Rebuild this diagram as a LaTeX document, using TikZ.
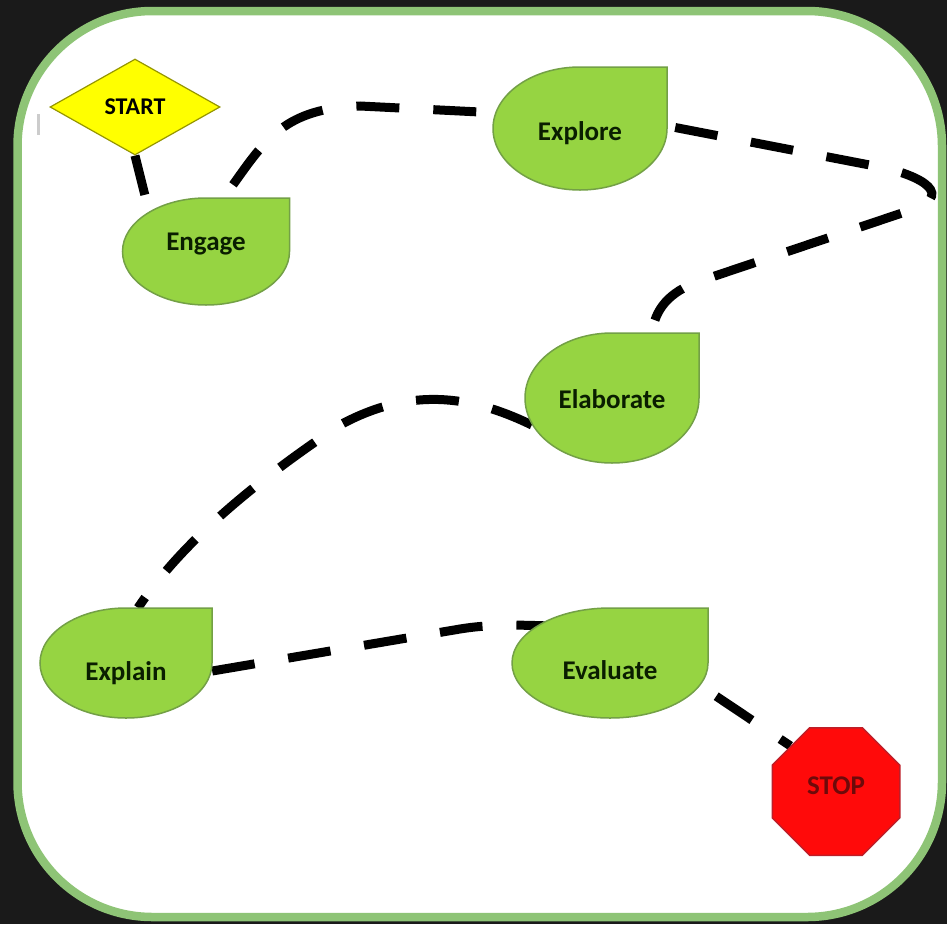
\documentclass[tikz,border=0pt]{standalone}
\usepackage{fontspec}
\setmainfont{Carlito}
\usetikzlibrary{shapes.geometric}
\definecolor{bgdark}{RGB}{26,26,26}
\definecolor{framegreen}{RGB}{142,196,118}
\definecolor{leafgreen}{RGB}{150,212,66}
\definecolor{leafborder}{RGB}{115,160,70}
\definecolor{leafink}{RGB}{10,30,0}
\definecolor{startfill}{RGB}{255,255,0}
\definecolor{startborder}{RGB}{150,150,0}
\definecolor{stopfill}{RGB}{255,10,10}
\definecolor{stopborder}{RGB}{190,30,40}
\definecolor{stopink}{RGB}{110,10,10}
\pgfdeclarelayer{back}
\pgfdeclarelayer{lines}
\pgfsetlayers{back,lines,main}
\tikzset{
  leafshape/.style={fill=leafgreen, draw=leafborder, line width=1.5pt},
  leaftext/.style={inner sep=0pt, font=\fontsize{27}{30}\selectfont\bfseries, text=leafink},
  trail/.style={draw=black, line width=9pt, dash pattern=on 43pt off 34pt},
}
\newcommand\drawleaf[4]{%
  \pgfmathsetmacro\lfL{#1-#3}\pgfmathsetmacro\lfR{#1+#3}%
  \pgfmathsetmacro\lfT{#2-#4}\pgfmathsetmacro\lfB{#2+#4}%
  \pgfmathsetmacro\lfCl{#1-0.5523*#3}\pgfmathsetmacro\lfCr{#1+0.5523*#3}%
  \pgfmathsetmacro\lfCu{#2-0.5523*#4}\pgfmathsetmacro\lfCd{#2+0.5523*#4}%
  \path[leafshape] (\lfR,\lfT) -- (\lfR,#2)
    .. controls (\lfR,\lfCd) and (\lfCr,\lfB) .. (#1,\lfB)
    .. controls (\lfCl,\lfB) and (\lfL,\lfCd) .. (\lfL,#2)
    .. controls (\lfL,\lfCu) and (\lfCl,\lfT) .. (#1,\lfT) -- cycle;%
}
\begin{document}
\begin{tikzpicture}[x=1pt,y=-1pt]
\useasboundingbox (0,0) rectangle (947,924);
\begin{pgfonlayer}{back}
  \fill[bgdark] (0,0) rectangle (947,924);
  \draw[line width=8.5pt, draw=framegreen, fill=white, rounded corners=135pt] (17.5,11) rectangle (942,917);
  \draw[gray!40, line width=3pt] (38,114) -- (38,135);
\end{pgfonlayer}

% START diamond
\node[diamond, draw=startborder, fill=startfill, line width=1.2pt, inner sep=0pt,
      minimum width=170pt, minimum height=96pt,
      font=\fontsize{24}{26}\selectfont\bfseries] (start) at (135,107) {START};

% leaves
\drawleaf{206}{251.5}{83.5}{53.5}
\node[leaftext, minimum width=167pt, minimum height=107pt, text height=20pt, text depth=22.6pt] (engage) at (206,251.5) {Engage};
\drawleaf{580}{128.5}{87}{61.5}
\node[leaftext, minimum width=174pt, minimum height=123pt, text height=33pt, text depth=9.6pt] (explore) at (580,128.5) {Explore};
\drawleaf{612}{398}{87}{65}
\node[leaftext, minimum width=174pt, minimum height=130pt, text height=32pt, text depth=10.6pt] (elaborate) at (612,398) {Elaborate};
\drawleaf{126}{663}{86}{55}
\node[leaftext, minimum width=172pt, minimum height=110pt, text height=39pt, text depth=3.6pt] (explain) at (126,663) {Explain};
\drawleaf{610}{663}{98}{55}
\node[leaftext, minimum width=196pt, minimum height=110pt, text height=38pt, text depth=4.6pt] (evaluate) at (610,663) {Evaluate};

% STOP octagon
\node[regular polygon, regular polygon sides=8, minimum size=138pt, inner sep=0pt,
      fill=stopfill, draw=stopborder, line width=1.5pt, text=stopink,
      font=\fontsize{27}{30}\selectfont\bfseries, text height=24pt, text depth=18.6pt] (stop) at (836,791.5) {STOP};

\begin{pgfonlayer}{lines}
  \draw[trail] (start.south) -- ([xshift=22.5pt,yshift=3pt]engage.north west);
  \draw[trail] ([xshift=27pt,yshift=13pt]engage.north)
     .. controls (265,140) and (285,108) .. (360,106)
     -- ([xshift=-3pt,yshift=16pt]explore.west);
  \draw[trail] ([xshift=8pt,yshift=1pt]explore.east) -- (880,167)
     .. controls (920,175) and (960,196) .. (905,212)
     -- (700,281)
     .. controls (668,292) and (655,310) .. ([xshift=40pt]elaborate.north);
  \draw[trail] ([xshift=7pt,yshift=-27pt]elaborate.west)
     .. controls (470,395) and (410,387) .. (340,425)
     .. controls (250,485) and (180,545) .. ([xshift=12pt]explain.north);
  \draw[trail] ([yshift=-8pt]explain.east) -- (460,629)
     .. controls (490,624) and (520,625) .. ([xshift=33pt,yshift=-18pt]evaluate.north west);
  \draw[trail] ([xshift=8pt,yshift=22pt]evaluate.south east) -- (stop.135);
\end{pgfonlayer}
\end{tikzpicture}
\end{document}
